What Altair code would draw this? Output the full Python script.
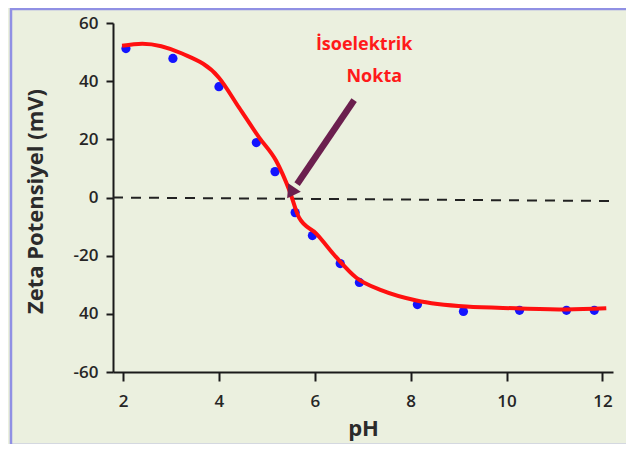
import altair as alt
import pandas as pd

# measured points
ph_points = [2.06, 3.04, 4.0, 4.78, 5.17, 5.59, 5.95, 6.53, 6.93, 8.14, 9.10, 10.27, 11.25, 11.83]
zeta_points = [51.2, 47.8, 38.1, 18.9, 8.9, -5.2, -13.1, -22.7, -29.2, -36.8, -39.2, -38.8, -38.8, -38.8]

# fitted curve
ph_curve = [1.98, 2.40, 3.23, 4.00, 4.42, 4.84, 5.19, 5.47, 5.67, 6.03, 6.45, 6.86, 7.41, 8.12, 9.16, 10.20, 11.25, 12.08]
zeta_curve = [52.2, 52.9, 49.5, 41.2, 30.9, 20.6, 12.7, 2.4, -6.9, -12.4, -20.6, -27.5, -32.0, -35.4, -37.5, -38.1, -38.5, -38.1]

# zero reference line
zero_ph = [1.79, 12.19]
zero_zeta = [0, -1.2]

# annotation arrow and labels
arrow_ph = [6.82, 5.63]
arrow_zeta = [33.5, 4.6]
head_ph = [5.50]
head_zeta = [1.6]
label_text = ["İsoelektrik", "Nokta"]
label_ph = [7.03, 7.24]
label_zeta = [52.4, 41.4]

x_ticks = [2, 4, 6, 8, 10, 12]
y_ticks = [-60, -40, -20, 0, 20, 40, 60]

FONT = "Open Sans"

xs = alt.Scale(domain=[1.79, 12.22], nice=False, zero=False)
ys = alt.Scale(domain=[-60, 60], nice=False, zero=False)

df_pts = pd.DataFrame({"ph": ph_points, "zeta": zeta_points})
df_curve = pd.DataFrame({"ph": ph_curve, "zeta": zeta_curve})
df_zero = pd.DataFrame({"ph": zero_ph, "zeta": zero_zeta})
df_arrow = pd.DataFrame({"ph": arrow_ph, "zeta": arrow_zeta})
df_head = pd.DataFrame({"ph": head_ph, "zeta": head_zeta})
df_lab = pd.DataFrame({"ph": label_ph, "zeta": label_zeta, "t": label_text})
df_one = pd.DataFrame({"a": [0]})

x_axis = alt.Axis(
    values=x_ticks, title="pH", grid=False, tickSize=9, tickWidth=2, tickColor="#1a1a1a",
    domainColor="#1a1a1a", domainWidth=2, labelFont=FONT, labelFontSize=17, labelColor="#262626",
    labelFontWeight=600, labelPadding=12, titleFont=FONT, titleFontSize=22, titleFontWeight="bold",
    titleColor="#2b2b2b", titleY=56, titleBaseline="middle",
)
y_axis = alt.Axis(
    values=y_ticks, title="Zeta Potensiyel (mV)", grid=False, tickSize=7, tickWidth=2,
    tickColor="#1a1a1a", domainColor="#1a1a1a", domainWidth=2, labelFont=FONT, labelFontSize=17,
    labelColor="#262626", labelFontWeight=600, labelPadding=8,
    labelExpr="datum.value == -40 ? '40' : toString(datum.value)",
    titleFont=FONT, titleFontSize=22, titleFontWeight="bold", titleColor="#2b2b2b",
    titleX=-78, titleY=178, titleBaseline="middle", titleAngle=270,
)


def X():
    return alt.X("ph:Q", scale=xs, axis=x_axis)


def Y():
    return alt.Y("zeta:Q", scale=ys, axis=y_axis)


border = alt.Chart(df_one).mark_rect(fill="transparent", stroke="#9090e4", strokeWidth=2.5).encode(
    x=alt.value(-102), x2=alt.value(640), y=alt.value(-14), y2=alt.value(422)
)

zero = alt.Chart(df_zero).mark_line(color="#222222", strokeWidth=2, strokeDash=[10, 8]).encode(x=X(), y=Y())

pts = alt.Chart(df_pts).mark_circle(size=85, color="#1414ff", opacity=1).encode(x=X(), y=Y())

curve = alt.Chart(df_curve).mark_line(color="#ff1010", strokeWidth=4, interpolate="monotone").encode(x=X(), y=Y())

arrow = alt.Chart(df_arrow).mark_line(color="#6b1f4e", strokeWidth=6.5).encode(x=X(), y=Y())
head = alt.Chart(df_head).mark_point(shape="triangle-up", size=230, filled=True, color="#6b1f4e",
                                     opacity=1, angle=214).encode(x=X(), y=Y())

labels = alt.Chart(df_lab).mark_text(font=FONT, fontSize=18, fontWeight="bold", color="#ff1a1a",
                                     align="center", baseline="middle").encode(x=X(), y=Y(), text="t:N")

chart = alt.layer(border, zero, pts, curve, arrow, head, labels).properties(
    width=500, height=349,
    autosize=alt.AutoSizeParams(type="none"),
    padding={"left": 105, "top": 15, "right": 13, "bottom": 72},
    background="#ebf0df",
).configure_view(strokeWidth=0)

chart.save("out.html", embed_options={"renderer": "svg", "actions": False})
